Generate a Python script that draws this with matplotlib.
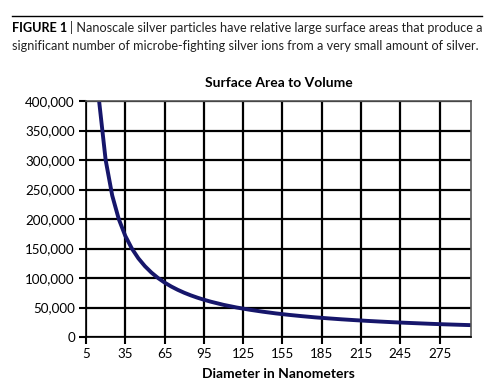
import matplotlib
matplotlib.use("Agg")
import matplotlib.pyplot as plt
from matplotlib.ticker import FuncFormatter

diameters = [15, 20, 25, 30, 35, 40, 45, 50, 55, 60, 65, 70, 75, 80, 85, 90, 95, 100,
             110, 120, 130, 140, 150, 160, 170, 180, 190, 200, 210, 220, 230, 240,
             250, 260, 270, 280, 290, 299]
ratio = [400000, 300000, 240000, 200000, 171400, 150000, 133300, 120000, 109100, 100000,
         92300, 85700, 80000, 75000, 70600, 66700, 63200, 60000, 54500, 50000, 46200,
         42900, 40000, 37500, 35300, 33300, 31600, 30000, 28600, 27300, 26100, 25000,
         24000, 23100, 22200, 21400, 20700, 20100]
x_ticks = [5, 35, 65, 95, 125, 155, 185, 215, 245, 275]
y_ticks = [0, 50000, 100000, 150000, 200000, 250000, 300000, 350000, 400000]

plt.rcParams['font.family'] = ['Lato', 'DejaVu Sans']

fig = plt.figure(figsize=(5, 3.92), dpi=100)
fig.patch.set_facecolor('white')

# top rule
fig.add_artist(plt.Line2D([12/500, 482/500], [1-16/392, 1-16/392], color='black', lw=1.0))
t1 = fig.text(12/500, 1-28/392, "FIGURE 1", fontsize=9.05, fontweight='bold', va='center', ha='left')
fig.canvas.draw()
bb = t1.get_window_extent()
fig.text((bb.x1 + 3)/500, 1-28/392, "| Nanoscale silver particles have relative large surface areas that produce a",
         fontsize=9.05, va='center', ha='left', color='#222222')
fig.text(12/500, 1-46/392, "significant number of microbe-fighting silver ions from a very small amount of silver.",
         fontsize=9.05, va='center', ha='left', color='#222222')

ax = fig.add_axes([86/500, 1-337/392, (471-86)/500, (337-101)/392])
ax.plot(diameters, ratio, color='#16166b', lw=2.8, solid_capstyle='round')
ax.set_xlim(5, 299)
ax.set_ylim(0, 400000)
ax.set_xticks(x_ticks)
ax.set_yticks(y_ticks)
ax.yaxis.set_major_formatter(FuncFormatter(lambda v, p: f"{int(v):,}"))
ax.grid(True, color='black', lw=1.6)
ax.set_axisbelow(True)
for s in ax.spines.values():
    s.set_linewidth(1.2)
    s.set_color('#555555')
ax.spines['bottom'].set_color('black')
ax.spines['left'].set_color('black')
ax.tick_params(axis='both', direction='out', length=5, width=1.5, labelsize=9.6, pad=3)
ax.set_title("Surface Area to Volume", fontsize=10, fontweight='bold', pad=10)
ax.set_xlabel("Diameter in Nanometers", fontsize=10, fontweight='bold', labelpad=6)

fig.savefig("out.png", dpi=100)
